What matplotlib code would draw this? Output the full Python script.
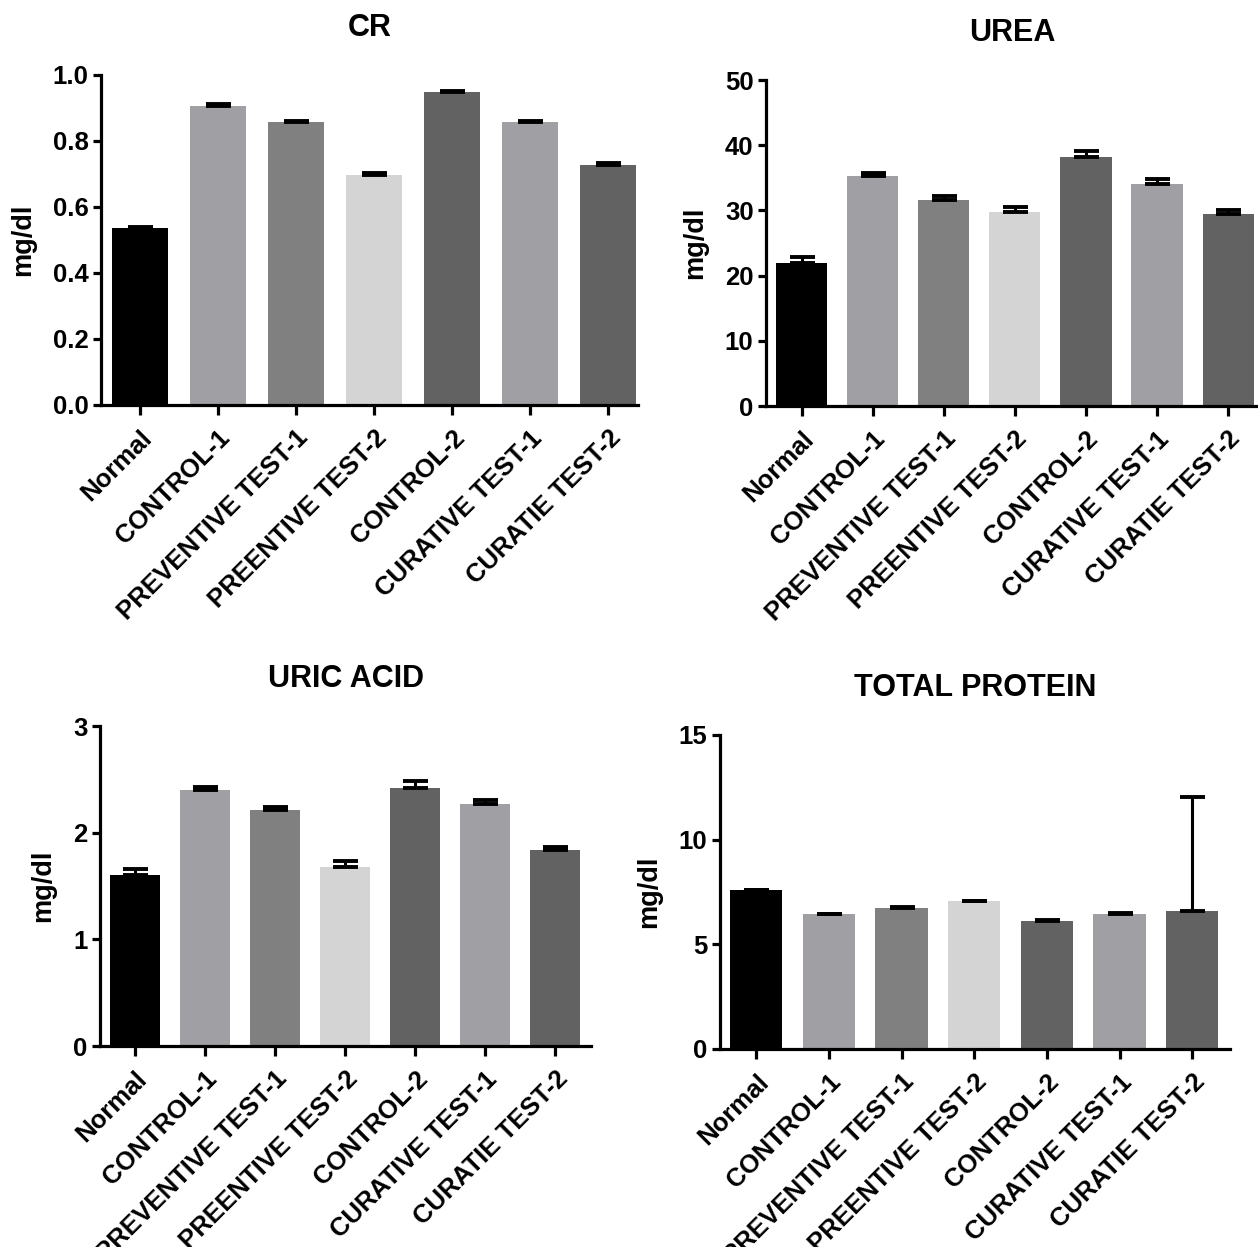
import matplotlib
matplotlib.use("Agg")
import matplotlib.pyplot as plt
import matplotlib.transforms as mtransforms

plt.rcParams['font.family'] = ['Liberation Sans', 'DejaVu Sans']
plt.rcParams['font.weight'] = 'bold'

groups = ["Normal", "CONTROL-1", "PREVENTIVE TEST-1", "PREENTIVE TEST-2",
          "CONTROL-2", "CURATIVE TEST-1", "CURATIE TEST-2"]
bar_colors = ["#000000", "#a0a0a4", "#808080", "#d4d4d4", "#626262", "#a0a0a4", "#626262"]

cr_mean = [0.537, 0.907, 0.858, 0.698, 0.947, 0.858, 0.728]
cr_err = [0.002, 0.004, 0.003, 0.004, 0.004, 0.003, 0.004]

urea_mean = [22.0, 35.2, 31.6, 29.8, 38.2, 34.1, 29.5]
urea_err = [0.8, 0.6, 0.6, 0.7, 0.9, 0.7, 0.5]

uric_mean = [1.60, 2.40, 2.21, 1.68, 2.42, 2.27, 1.84]
uric_err = [0.06, 0.03, 0.03, 0.05, 0.06, 0.04, 0.03]

tp_mean = [7.58, 6.43, 6.75, 7.05, 6.13, 6.46, 6.60]
tp_err = [0.0, 0.03, 0.03, 0.04, 0.03, 0.03, 5.42]

W, H = 1258, 1247
fig = plt.figure(figsize=(W / 100, H / 100), dpi=100)
shift_left = mtransforms.ScaledTranslation(-6 / 100, 0, fig.dpi_scale_trans)


def panel(px_left, px_right, px_top, px_bottom, xmax, title, means, errs, ymax, yticks, fmt):
    ax = fig.add_axes([px_left / W, (H - px_bottom) / H,
                       (px_right - px_left) / W, (px_bottom - px_top) / H])
    x = list(range(len(groups)))
    ax.bar(x, means, width=0.72, color=bar_colors, zorder=2)
    ax.errorbar(x, means, yerr=[[0] * len(errs), errs], fmt='none', ecolor='black',
                elinewidth=2.2, capsize=9, capthick=2.8, zorder=3)
    ax.set_xlim(-0.5, xmax)
    ax.set_ylim(0, ymax)
    ax.set_yticks(yticks)
    ax.set_yticklabels([fmt.format(v) for v in yticks])
    ax.set_xticks(x)
    ax.set_xticklabels(groups, rotation=45, ha='right', rotation_mode='anchor')
    for lab in ax.get_xticklabels():
        lab.set_transform(lab.get_transform() + shift_left)
    for s in ['top', 'right']:
        ax.spines[s].set_visible(False)
    for s in ['left', 'bottom']:
        ax.spines[s].set_linewidth(2.3)
    ax.tick_params(axis='both', width=2.3, length=6, labelsize=18.5, pad=3)
    ax.tick_params(axis='x', length=7, pad=8)
    ax.set_ylabel("mg/dl", fontsize=19.5, fontweight='bold', labelpad=12)
    ax.set_title(title, fontsize=22, fontweight='bold', pad=28)
    return ax


panel(101, 638, 75, 405, 6.38, "CR", cr_mean, cr_err, 1.0,
      [0.0, 0.2, 0.4, 0.6, 0.8, 1.0], "{:.1f}")
panel(766, 1258, 80, 406, 6.42, "UREA", urea_mean, urea_err, 50,
      [0, 10, 20, 30, 40, 50], "{:d}")
panel(100, 591, 726, 1046, 6.51, "URIC ACID", uric_mean, uric_err, 3,
      [0, 1, 2, 3], "{:d}")
panel(720, 1230, 735, 1049, 6.52, "TOTAL PROTEIN", tp_mean, tp_err, 15,
      [0, 5, 10, 15], "{:d}")

fig.savefig("out.png", dpi=100)
